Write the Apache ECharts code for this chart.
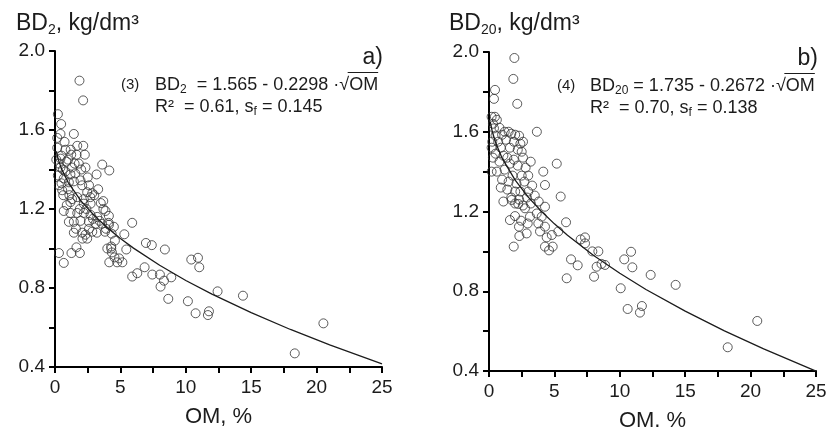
<!DOCTYPE html>
<html><head><meta charset="utf-8">
<script src="https://cdn.jsdelivr.net/npm/echarts@6/dist/echarts.min.js"></script>
<style>html,body{margin:0;padding:0;background:#fff}#c{width:830px;height:427px}</style>
</head><body><div id="c"></div>
<script>
// ---- data ----
const xLabelsOM = [0, 5, 10, 15, 20, 25];
const yLabelsBD = [0.4, 0.8, 1.2, 1.6, 2.0];

// panel a) BD2 vs OM  [OM %, BD kg/dm3]
const bd2Points = [
  [1.87,1.85],[2.15,1.75],[0.22,1.68],[0.47,1.63],[0.42,1.58],[1.44,1.58],[0.17,1.56],[0.73,1.54],
  [1.70,1.52],[2.16,1.52],[0.17,1.51],[0.80,1.50],[1.24,1.475],[1.65,1.475],[2.28,1.475],[0.42,1.455],
  [0.88,1.44],[1.82,1.43],[3.61,1.425],[4.15,1.395],[2.33,1.41],[3.18,1.375],[0.42,1.41],[0.80,1.39],
  [1.18,1.375],[1.55,1.38],[0.22,1.37],[0.67,1.355],[1.06,1.335],[1.44,1.34],[1.95,1.345],[2.08,1.32],
  [0.30,1.32],[0.55,1.295],[2.46,1.285],[2.85,1.28],[3.00,1.27],[0.63,1.27],[1.10,1.27],[1.70,1.26],
  [2.20,1.25],[3.69,1.24],[2.72,1.227],[2.20,1.227],[1.18,1.235],[0.67,1.19],[3.86,1.19],[1.18,1.18],
  [1.70,1.18],[2.20,1.18],[2.72,1.17],[3.23,1.16],[4.12,1.165],[1.06,1.135],[1.44,1.135],[1.95,1.14],
  [2.59,1.135],[3.10,1.125],[5.90,1.13],[3.60,1.125],[4.12,1.12],[4.50,1.11],[1.44,1.08],[2.08,1.08],
  [2.33,1.07],[2.85,1.085],[3.82,1.085],[4.33,1.075],[5.30,1.072],[2.46,1.05],[4.58,1.04],[6.95,1.028],
  [7.40,1.017],[0.30,0.977],[1.26,0.977],[1.64,1.006],[1.90,0.977],[4.30,1.00],[4.35,0.98],[5.45,0.995],
  [0.67,0.927],[4.15,0.93],[4.55,0.955],[4.90,0.95],[5.15,0.93],[4.75,0.93],[6.85,0.905],[8.40,0.995],
  [5.90,0.858],[6.29,0.875],[7.44,0.868],[8.02,0.868],[8.33,0.837],[8.07,0.807],[8.89,0.854],[8.66,0.745],
  [10.16,0.733],[10.42,0.944],[10.93,0.953],[11.03,0.905],[10.75,0.672],[11.77,0.682],[11.69,0.663],
  [12.43,0.783],[14.37,0.761],[18.33,0.469],[20.52,0.621],
  [0.10,1.45],[0.30,1.43],[0.50,1.47],[1.00,1.45],[1.30,1.41],[1.50,1.43],[2.00,1.40],[2.50,1.36],
  [2.60,1.32],[3.30,1.30],[3.50,1.23],[1.00,1.30],[1.30,1.25],[0.90,1.22],[2.40,1.20],[2.90,1.15],
  [3.40,1.14],[3.90,1.10],[4.10,1.13],[3.20,1.08],[2.60,1.10],[1.60,1.10],[2.10,1.05],[1.90,1.20],
  [0.50,1.33],[1.20,1.50],[0.60,1.40],[2.70,1.26],[3.70,1.20],[4.30,1.01],[4.00,1.00]
];
// panel b) BD20 vs OM
const bd20Points = [
  [1.94,1.97],[1.86,1.865],[2.16,1.74],[0.46,1.81],[0.38,1.765],[3.66,1.60],[3.19,1.45],[5.18,1.44],
  [4.15,1.40],[4.28,1.333],[5.48,1.275],[0.20,1.675],[0.45,1.675],[0.60,1.66],[0.30,1.64],[0.80,1.62],
  [0.38,1.617],[1.20,1.60],[1.50,1.60],[1.00,1.585],[0.50,1.58],[1.70,1.59],[2.00,1.585],[2.30,1.58],
  [0.25,1.55],[0.70,1.55],[1.30,1.56],[1.90,1.55],[2.40,1.54],[2.60,1.55],[0.20,1.52],[0.90,1.52],
  [1.60,1.52],[2.20,1.51],[2.50,1.50],[0.50,1.49],[0.30,1.47],[1.10,1.48],[1.40,1.47],[1.90,1.46],
  [2.60,1.47],[0.80,1.45],[1.60,1.44],[2.20,1.43],[2.80,1.42],[0.20,1.40],[0.60,1.40],[1.20,1.41],
  [1.80,1.38],[2.50,1.38],[3.00,1.38],[1.00,1.36],[1.50,1.35],[2.10,1.34],[2.70,1.35],[3.30,1.33],
  [0.90,1.32],[1.40,1.31],[2.00,1.30],[2.40,1.30],[3.00,1.30],[1.70,1.27],[2.30,1.26],[2.90,1.27],
  [3.50,1.28],[1.10,1.25],[2.00,1.24],[2.60,1.23],[3.20,1.24],[3.80,1.25],[1.73,1.258],[2.24,1.238],
  [2.75,1.216],[4.28,1.224],[3.65,1.19],[1.60,1.157],[1.99,1.177],[2.45,1.154],[2.29,1.124],[3.13,1.174],
  [2.96,1.14],[3.77,1.14],[4.03,1.174],[3.90,1.10],[4.28,1.124],[4.41,1.07],[4.80,1.082],[5.30,1.10],
  [5.89,1.146],[4.28,1.024],[4.59,1.005],[4.87,1.024],[1.89,1.024],[2.32,1.077],[2.88,1.09],[6.27,0.96],
  [6.78,0.93],[5.94,0.865],[7.01,1.06],[7.34,1.07],[7.34,1.04],[7.90,1.00],[8.36,1.00],[8.23,0.923],
  [8.60,0.937],[8.87,0.932],[8.03,0.873],[10.07,0.815],[10.34,0.96],[10.86,0.998],[10.96,0.92],
  [10.60,0.711],[11.54,0.693],[11.69,0.726],[12.36,0.882],[14.27,0.832],[18.25,0.519],[20.51,0.651]
];
// fitted curves
const fitOM   = [0.1, 0.25, 0.5, 1, 2, 3, 4, 5, 6, 8, 10, 12, 15, 18, 21, 25];
const fitBD2  = [1.492, 1.450, 1.403, 1.335, 1.240, 1.167, 1.105, 1.051, 1.002, 0.915, 0.838, 0.769, 0.675, 0.590, 0.512, 0.416];
const fitBD20 = [1.650, 1.601, 1.546, 1.468, 1.357, 1.272, 1.201, 1.138, 1.081, 0.979, 0.890, 0.809, 0.700, 0.601, 0.511, 0.399];

// ---- chart ----
const FONT = "'Liberation Sans', Arial, sans-serif";
const INK = '#1c1c1c';
const AXIS = 'black';
const EQ = 18, SUB = 12;
const chart = echarts.init(document.getElementById('c'));

function xAx(grid) {
  return {
    type: 'value', gridIndex: grid, min: 0, max: 25, interval: 2.5,
    name: 'OM, %', nameLocation: 'middle', nameGap: 39,
    nameTextStyle: {fontFamily: FONT, fontSize: 22, color: INK},
    axisLine: {show: true, onZero: false, lineStyle: {color: AXIS, width: 2}},
    axisTick: {show: true, inside: false, length: 6, lineStyle: {color: AXIS, width: 2}},
    axisLabel: {fontFamily: FONT, fontSize: 19, color: INK, margin: 11,
      formatter: v => xLabelsOM.includes(v) ? String(v) : ''},
    splitLine: {show: false}
  };
}
function yAx(grid) {
  return {
    type: 'value', gridIndex: grid, min: 0.4, max: 2.0, interval: 0.2,
    axisLine: {show: true, onZero: false, lineStyle: {color: AXIS, width: 2}},
    axisTick: {show: true, inside: false, length: 6, lineStyle: {color: AXIS, width: 2}},
    axisLabel: {fontFamily: FONT, fontSize: 19, color: INK, margin: 10,
      formatter: v => yLabelsBD.some(t => Math.abs(t - v) < 1e-6) ? v.toFixed(1) : ''},
    splitLine: {show: false}
  };
}
const zip = (a, b) => a.map((x, i) => [x, b[i]]);
const scatterStyle = {color: 'rgba(255,255,255,0)', borderColor: '#333', borderWidth: 1};

const rich = {
  n: {fontFamily: FONT, fontSize: EQ, color: INK, lineHeight: 22},
  p: {fontFamily: FONT, fontSize: 15, color: INK, lineHeight: 22},
  s: {fontFamily: FONT, fontSize: SUB, color: INK, lineHeight: 14, verticalAlign: 'bottom'},
  big: {fontFamily: FONT, fontSize: 23, color: INK, lineHeight: 27},
  bs: {fontFamily: FONT, fontSize: 14, color: INK, lineHeight: 15, verticalAlign: 'bottom'}
};
function txt(x, y, text, align) {
  return {type: 'text', x: x, y: y, silent: true,
    style: {text: text, align: align || 'left', verticalAlign: 'middle', rich: rich, fill: INK, font: EQ + 'px ' + FONT}};
}
const mctx = document.createElement('canvas').getContext('2d');
function w(s, size) { mctx.font = size + 'px ' + FONT; return mctx.measureText(s).width; }
function overline(x0, y, sub, rest) {
  const start = x0 + w('BD', EQ) + w(sub, SUB) + w(rest, EQ) - 1.5;
  const end = start + 1.5 + w('OM', EQ);
  return {type: 'line', silent: true, shape: {x1: start, y1: y - 12.5, x2: end, y2: y - 12.5},
    style: {stroke: INK, lineWidth: 1}};
}
const restA = '  = 1.565 - 0.2298 ·√';
const restB = ' = 1.735 - 0.2672 ·√';

chart.setOption({
  animation: false,
  backgroundColor: '#fff',
  grid: [
    {left: 55, top: 51, width: 327, height: 316, outerBoundsMode: 'none'},
    {left: 489, top: 52, width: 327, height: 319, outerBoundsMode: 'none'}
  ],
  xAxis: [xAx(0), xAx(1)],
  yAxis: [yAx(0), yAx(1)],
  series: [
    {type: 'scatter', xAxisIndex: 0, yAxisIndex: 0, data: bd2Points, symbol: 'circle', symbolSize: 9, itemStyle: scatterStyle},
    {type: 'line', xAxisIndex: 0, yAxisIndex: 0, data: zip(fitOM, fitBD2), showSymbol: false, smooth: false, lineStyle: {color: INK, width: 1.3}},
    {type: 'scatter', xAxisIndex: 1, yAxisIndex: 1, data: bd20Points, symbol: 'circle', symbolSize: 9, itemStyle: scatterStyle},
    {type: 'line', xAxisIndex: 1, yAxisIndex: 1, data: zip(fitOM, fitBD20), showSymbol: false, smooth: false, lineStyle: {color: INK, width: 1.3}}
  ],
  graphic: [
    txt(16, 24, '{big|BD}{bs|2}{big|, kg/dm³}'),
    txt(449, 24, '{big|BD}{bs|20}{big|, kg/dm³}'),
    {type: 'text', x: 383, y: 58, style: {text: 'a)', font: '23px ' + FONT, fill: INK, align: 'right', verticalAlign: 'middle'}},
    {type: 'text', x: 818, y: 59, style: {text: 'b)', font: '23px ' + FONT, fill: INK, align: 'right', verticalAlign: 'middle'}},
    txt(121, 85, '{p|(3)}'),
    txt(155, 85, '{n|BD}{s|2}{n|' + restA + 'OM}'),
    overline(155, 85, '2', restA),
    txt(155, 107, '{n|R²  = 0.61, s}{s|f}{n| = 0.145}'),
    txt(557, 86, '{p|(4)}'),
    txt(590, 86, '{n|BD}{s|20}{n|' + restB + 'OM}'),
    overline(590, 86, '20', restB),
    txt(590, 108, '{n|R²  = 0.70, s}{s|f}{n| = 0.138}')
  ]
});
</script>
</body></html>
